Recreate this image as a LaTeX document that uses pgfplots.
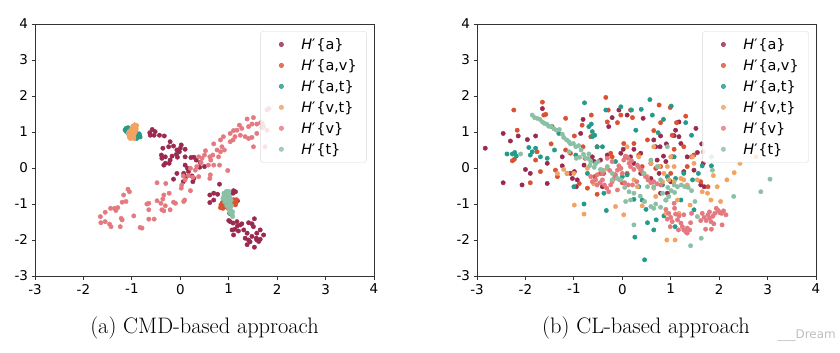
\documentclass[border=0pt]{standalone}
\usepackage{fontspec}
\usepackage{pgfplots}
\pgfplotsset{compat=1.18}
\newfontfamily\dejavu{DejaVu Sans}
\definecolor{ca}{HTML}{9B2A50}
\definecolor{cav}{HTML}{DB5133}
\definecolor{cat}{HTML}{229B8A}
\definecolor{cvt}{HTML}{F2A261}
\definecolor{cv}{HTML}{E47A80}
\definecolor{ct}{HTML}{8CC0A5}
\newcommand{\Hp}{\textit{H}′\kern0.8bp}
\pgfplotsset{
 myax/.style={
  scale only axis, width=339bp, height=252bp,
  xmin=-3,xmax=4,ymin=-3,ymax=4,
  xtick={-3,...,4}, ytick={-3,...,4},
  tick align=outside, tick pos=left,
  major tick length=3.5bp,
  axis line style={line width=0.8bp, black!80},
  every tick/.style={black!80, line width=0.8bp},
  ticklabel style={font=\dejavu\fontsize{13.5}{15}\selectfont},
  xticklabel style={yshift=-1bp},
  /pgf/number format/assume math mode=true,
  legend style={at={(rel axis cs:0.979,0.972)}, anchor=north east, draw=black!15, rounded corners=3bp, fill=white, fill opacity=0.8, text opacity=1, font=\dejavu\fontsize{14.5}{16}\selectfont, row sep=4.5bp, inner xsep=8bp, inner ysep=5bp},
  legend cell align=left,
  every axis plot/.append style={only marks, mark=*, mark size=2.2bp,
    legend image code/.code={\path[draw=none,fill=none] (0bp,-3bp) rectangle (31bp,3bp); \draw[##1] plot coordinates {(13bp,0bp)};}},
 }
}
\begin{document}
\begin{tikzpicture}[x=1bp,y=1bp]
\path[use as bounding box] (0,0) rectangle (840,352);
% ---------------- (a) CMD-based -----------------
\begin{axis}[myax, at={(35bp,76bp)}, anchor=south west]
\addplot[color=ca] coordinates {
(-0.58,1.07) (-0.52,1.01) (-0.62,0.91) (-0.54,0.91) (-0.43,0.91) (-0.33,0.89) (-0.63,0.98) (-0.21,0.73) (-0.14,0.61) (-0.24,0.59) (-0.36,0.55) (-0.39,0.36) (-0.31,0.31) (-0.38,0.27) (0.02,0.64) (0.00,0.55) (-0.07,0.50) (-0.02,0.45) (0.10,0.52) (-0.08,0.38) (-0.17,0.33) (-0.06,0.30) (0.10,0.31) (0.22,0.29) (0.28,0.30) (0.33,0.22) (0.41,0.15) (0.50,0.04) (0.40,0.02) (-0.31,0.13) (-0.34,0.08) (-0.21,0.22) (-0.23,0.13) (-0.14,-0.31) (-0.07,-0.15) (0.10,0.08) (0.15,-0.01) (0.07,-0.15) (0.17,-0.10) (0.24,-0.22) (0.12,-0.24) (0.06,-0.38) (0.26,-0.38) (0.28,-0.29)
(0.81,-0.45) (0.69,-0.70) (0.61,-0.75) (0.77,-0.73) (0.69,-0.89) (0.61,-0.96) (1.10,-0.63) (1.14,-0.66) (1.09,-0.70) (1.03,-0.89) (1.18,-0.91) (1.02,-1.26) (1.00,-1.46) (1.09,-1.53) (1.17,-1.49) (1.13,-1.70) (1.10,-1.86) (1.07,-1.72) (1.18,-1.61) (1.24,-1.58) (1.31,-1.72) (1.20,-1.75) (1.41,-1.52) (1.48,-1.55) (1.53,-1.41) (1.51,-1.63) (1.38,-1.81) (1.34,-1.95) (1.41,-2.00) (1.48,-1.90) (1.58,-1.81) (1.65,-1.72) (1.72,-1.86) (1.58,-2.00) (1.44,-2.05) (1.38,-2.13) (1.53,-2.20) (1.65,-1.98) (1.62,-2.04) (1.57,-1.95) (1.27,-1.55) (1.03,-1.49)
};
\addlegendentry{\Hp\{a\}}
\addplot[color=cav] coordinates {
(0.84,-1.02) (0.86,-1.08) (0.88,-1.12) (0.90,-1.00) (0.83,-1.10) (0.92,-1.06) (1.10,-0.88) (1.13,-0.92) (1.15,-0.96) (1.12,-1.00) (1.16,-0.88) (1.08,-0.95) (0.95,-0.95) (1.02,-1.05) (1.00,-0.90) (0.90,-0.92) (1.05,-0.98) (0.97,-1.10) (1.14,-1.02) (0.87,-0.96)
};
\addlegendentry{\Hp\{a,v\}}
\addplot[color=cat] coordinates {
(-1.12,1.10) (-1.10,1.05) (-1.08,0.98) (-1.05,0.92) (-0.98,0.85) (-0.90,0.88) (-0.85,0.95) (-0.83,0.86) (-0.88,0.92) (-0.92,1.02) (-1.12,1.02) (-1.08,1.12) (-1.00,1.08) (-0.95,1.12) (-0.90,0.82) (-0.86,0.90) (-1.14,1.06) (-1.03,0.88) (-0.84,0.91) (-1.06,1.08)
};
\addlegendentry{\Hp\{a,t\}}
\addplot[color=cvt] coordinates {
(-1.05,0.85) (-1.02,0.90) (-1.00,0.95) (-0.98,1.00) (-0.95,1.05) (-0.93,1.10) (-0.92,1.15) (-0.94,1.20) (-1.03,0.82) (-0.96,0.88) (-1.00,1.02) (-1.04,0.95) (-0.97,1.12) (-0.91,1.08) (-1.06,0.90) (-0.99,0.84) (-0.95,0.95) (-1.01,1.08) (-0.93,1.00) (-1.07,0.98) (-0.98,1.16) (-0.90,1.18) (-1.02,1.04) (-0.96,0.82) (-1.05,1.02)
};
\addlegendentry{\Hp\{v,t\}}
\addplot[color=cv] coordinates {
(1.51,1.40) (1.38,1.36) (1.58,1.22) (1.66,1.26) (1.72,1.15) (1.79,1.05) (1.69,1.12) (1.48,1.22) (1.41,1.15) (1.27,1.10) (1.22,1.19) (1.10,1.04) (1.17,1.05) (1.03,0.96) (1.13,0.87) (1.24,0.91) (1.34,0.87) (1.41,0.82) (1.48,0.85) (1.58,0.96) (1.51,0.59) (1.75,0.59) (1.79,1.61) (1.83,1.65) (1.69,1.24) (1.09,0.78) (1.03,0.73) (0.89,0.87) (0.83,0.78) (0.86,0.59) (0.91,0.50) (0.83,0.45) (0.76,0.50) (0.69,0.67) (0.67,0.36) (0.79,0.31) (0.63,0.22) (0.61,0.31) (0.58,0.08) (0.69,0.08) (0.81,0.08) (0.52,0.48) (0.50,0.36) (0.45,0.27) (0.38,0.31) (0.43,0.15) (0.34,0.04) (0.31,-0.06) (0.21,-0.01) (0.26,-0.26) (0.38,-0.24) (0.62,-0.19) (0.61,-0.29) (0.98,-0.07)
(-1.08,-0.59) (-1.05,-0.66) (-1.17,-0.75) (-1.12,-0.93) (-1.20,-0.95) (-1.29,-1.10) (-1.44,-1.12) (-1.36,-1.12) (-1.33,-1.18) (-1.55,-1.23) (-1.65,-1.35) (-1.55,-1.49) (-1.64,-1.52) (-1.46,-1.56) (-1.43,-1.63) (-1.22,-1.40) (-1.20,-1.44) (-1.24,-1.63) (-0.96,-1.33) (-0.83,-1.65) (-0.79,-1.67) (-0.69,-1.00) (-0.65,-0.98) (-0.65,-1.16) (-0.65,-1.42) (-0.54,-1.42) (-0.48,-0.91) (-0.48,-0.41) (-0.40,-0.98) (-0.36,-0.86) (-0.34,-1.19) (-0.31,-1.05) (-0.30,-0.43) (-0.23,-0.70) (-0.21,-1.16) (-0.14,-0.95) (-0.10,-0.98) (-0.34,-0.75) (0.07,-0.93) (0.09,-0.89) (0.02,-0.56) (0.03,-0.47) (0.21,-0.63) (0.06,-0.22) (0.17,-0.21) (0.10,-0.33) (-0.38,-1.16)
};
\addlegendentry{\Hp\{v\}}
\addplot[color=ct] coordinates {
(0.95,-0.65) (0.98,-0.68) (0.92,-0.72) (1.00,-0.72) (0.90,-0.78) (0.96,-0.80) (1.02,-0.80) (0.88,-0.85) (0.94,-0.88) (1.00,-0.88) (1.05,-0.90) (0.92,-0.95) (0.98,-0.97) (1.03,-1.00) (0.96,-1.05) (1.02,-1.08) (1.06,-1.05) (1.00,-1.15) (1.05,-1.18) (1.08,-1.22) (1.03,-1.25) (1.07,-1.30) (1.08,-1.35) (0.90,-0.70) (1.00,-0.65)
};
\addlegendentry{\Hp\{t\}}
\end{axis}
% ---------------- (b) CL-based -----------------
\begin{axis}[myax, at={(477bp,76bp)}, anchor=south west]
\addplot[color=ca] coordinates {
(-2.83,0.55) (-2.46,0.96) (-2.31,0.75) (-2.15,0.89) (-2.46,-0.41) (-2.07,-0.47) (-1.96,0.79) (-2.00,-0.04) (-1.90,-0.15) (-1.79,0.89) (-1.65,1.65) (-1.55,0.13) (-1.55,-0.43) (-1.45,1.15) (-1.24,0.06) (-1.24,0.31) (-1.07,-0.15) (-1.03,-0.29) (-0.99,-0.10) (-0.95,-0.52) (-0.93,-0.33) (-0.81,1.35) (-0.86,0.96) (-0.79,0.08) (-0.62,0.31) (-0.59,0.19) (-0.45,0.22) (-0.41,-0.52) (-0.39,-0.15) (-0.31,0.36) (-0.28,1.15) (-0.21,1.40) (-0.03,0.41) (-0.07,1.61) (-0.15,-0.19) (0.02,0.52) (0.07,0.31) (0.10,1.47) (0.17,0.31) (0.24,0.52) (0.24,0.13) (0.38,0.41) (0.43,1.38) (0.65,0.78) (0.69,0.59) (0.72,0.22) (0.76,-0.15) (0.78,0.59) (0.79,-0.70) (0.93,-0.70) (1.00,-0.38) (1.03,0.31) (1.07,0.90) (1.10,1.05) (1.17,0.87) (1.21,0.68) (1.27,-0.10) (1.34,0.31) (1.48,-0.06) (1.52,1.10) (1.55,0.43) (1.62,-0.47) (1.64,0.67) (1.69,-0.52) (1.67,0.13) (0.85,0.33) (0.90,0.18) (0.59,0.13) (0.38,-0.15) (0.59,-0.29) (0.91,0.67) (1.17,1.28) (0.79,0.89)
};
\addlegendentry{\Hp\{a\}}
\addplot[color=cav] coordinates {
(-2.24,1.61) (-2.17,1.05) (-2.27,0.20) (-2.23,0.24) (-1.90,-0.41) (-1.79,0.22) (-1.76,0.45) (-1.69,-0.10) (-1.65,1.83) (-1.62,1.47) (-1.58,1.49) (-1.47,0.67) (-1.38,-0.06) (-1.34,-0.24) (-1.17,1.38) (-1.17,0.50) (-1.14,-0.15) (-1.07,0.41) (-0.99,0.89) (-0.89,-0.43) (-0.83,1.19) (-0.81,0.59) (-0.77,0.27) (-0.72,-0.56) (-0.65,0.87) (-0.64,1.47) (-0.57,-0.24) (-0.52,-0.73) (-0.52,0.59) (-0.45,-0.15) (-0.34,1.96) (-0.31,1.28) (-0.29,1.61) (-0.24,0.41) (-0.21,0.31) (-0.10,1.26) (-0.03,1.47) (0.00,-0.41) (0.03,0.68) (0.10,-0.15) (0.17,1.61) (0.21,1.40) (0.24,0.68) (0.34,0.36) (0.41,0.04) (0.52,0.78) (0.65,1.04) (0.69,-0.01) (0.76,1.75) (0.79,1.26) (0.99,1.68) (1.03,0.91) (1.07,0.52) (1.12,1.26) (1.31,1.44) (1.27,0.59) (1.34,0.04) (1.43,0.31) (1.48,0.36) (1.62,-0.38) (1.77,-0.52) (1.00,-0.15) (0.79,0.04)
};
\addlegendentry{\Hp\{a,v\}}
\addplot[color=cat] coordinates {
(-2.38,0.39) (-2.27,0.39) (-2.22,0.43) (-2.19,0.33) (-1.93,0.57) (-1.90,0.36) (-1.86,0.45) (-1.79,0.55) (-1.69,0.31) (-1.55,0.27) (-1.40,0.50) (-1.31,0.96) (-1.00,-0.52) (-0.96,0.36) (-0.79,-1.00) (-0.78,1.81) (-0.72,-0.15) (-0.69,1.15) (-0.64,1.22) (-0.62,0.87) (-0.62,1.01) (-0.57,0.91) (-0.52,0.59) (-0.41,0.59) (-0.38,-0.70) (-0.34,1.61) (-0.33,-1.18) (-0.14,0.18) (-0.03,1.70) (0.00,-0.24) (0.10,-0.19) (0.19,1.61) (0.24,-0.87) (0.28,1.05) (0.34,-0.52) (0.41,-0.89) (0.39,1.63) (0.26,-1.92) (0.46,-2.55) (0.49,-1.15) (0.52,-1.52) (0.57,1.90) (0.62,1.47) (0.65,-1.72) (0.70,-1.44) (0.74,0.98) (0.85,1.35) (0.83,-0.47) (0.86,-1.33) (0.90,-0.89) (0.93,-0.24) (0.96,-0.33) (1.01,1.72) (1.07,0.31) (1.09,-1.63) (1.10,-0.29) (1.21,-0.89) (1.27,-0.15) (1.31,1.26) (1.43,0.91) (1.45,-0.33) (1.48,-1.16) (1.57,-0.15) (1.65,0.06) (1.84,0.06)
};
\addlegendentry{\Hp\{a,t\}}
\addplot[color=cvt] coordinates {
(-1.34,-0.15) (-1.21,-0.04) (-1.14,-0.15) (-1.00,-0.15) (-0.99,-1.03) (-0.79,-1.28) (-0.72,-0.01) (-0.59,-0.44) (-0.38,-0.07) (-0.31,-0.01) (-0.14,-1.07) (-0.03,-0.01) (0.03,-1.30) (0.10,0.59) (0.24,-0.33) (0.31,-0.52) (0.34,0.31) (0.41,-1.05) (0.59,0.13) (0.65,0.59) (0.76,0.04) (0.83,-0.38) (0.90,-1.26) (0.92,-2.00) (0.93,0.04) (0.96,-0.33) (1.00,0.31) (1.07,-0.38) (1.09,-2.00) (1.14,-0.89) (1.17,-1.26) (1.21,-0.29) (1.27,-0.33) (1.34,-0.47) (1.40,-1.03) (1.45,0.31) (1.48,0.13) (1.55,-0.33) (1.65,-0.66) (1.76,-0.70) (1.83,-0.89) (1.88,-0.21) (1.96,-0.52) (2.03,-0.93) (2.16,-0.33) (2.31,-0.13) (2.43,0.13) (2.76,0.31) (1.67,0.45) (0.65,-0.56) (0.69,-0.79) (0.52,-0.24) (0.38,-0.06) (0.86,-0.15) (1.07,0.04)
};
\addlegendentry{\Hp\{v,t\}}
\addplot[color=cv] coordinates {
(-0.65,-0.24) (-0.62,-0.38) (-0.55,-0.33) (-0.52,-0.47) (-0.46,-0.41) (-0.41,-0.33) (-0.37,-0.47) (-0.32,-0.56) (-0.28,-0.66) (-0.24,-0.47) (-0.21,-0.38) (-0.17,-0.29) (-0.14,-0.19) (-0.10,-0.06) (-0.07,0.06) (-0.03,-0.01) (0.03,0.22) (0.07,0.33) (0.12,0.27) (0.14,0.13) (0.17,0.04) (0.19,0.20) (0.24,-0.04) (0.31,0.08) (0.34,0.02) (0.39,-0.06) (0.43,-0.15) (0.48,-0.24) (0.53,-0.33) (0.59,-0.41) (0.65,-0.38) (0.72,-0.44) (0.79,-0.47) (-0.31,0.27) (-0.21,0.18) (-0.05,-0.33) (0.05,-0.41) (0.12,-0.47) (0.21,-0.47) (0.30,-0.38) (-0.41,-0.15) (-0.52,-0.19) (-0.26,-0.07) (0.00,-0.15) (-0.10,-0.61)
(0.90,-1.15) (0.96,-1.26) (1.00,-1.37) (1.03,-1.49) (1.08,-1.12) (1.10,-1.28) (1.14,-1.44) (1.21,-1.53) (1.24,-1.63) (1.27,-1.72) (1.31,-1.77) (1.34,-1.67) (1.39,-1.72) (0.99,-1.63) (0.93,-1.42) (1.17,-1.33) (1.27,-1.30) (1.16,-1.72) (1.41,-1.52) (1.34,-1.81) (1.43,-1.26) (1.07,-0.98)
(1.65,-1.26) (1.69,-1.37) (1.73,-1.46) (1.77,-1.30) (1.80,-1.39) (1.83,-1.49) (1.87,-1.34) (1.91,-1.26) (1.94,-1.12) (1.98,-1.18) (2.01,-1.24) (2.05,-1.26) (2.09,-1.19) (2.14,-1.30) (1.72,-1.70) (1.84,-1.70) (1.89,-1.55) (1.62,-1.46) (2.06,-1.58) (1.80,-1.22)
};
\addlegendentry{\Hp\{v\}}
\addplot[color=ct] coordinates {
(-1.86,1.47) (-1.81,1.40) (-1.76,1.38) (-1.70,1.35) (-1.65,1.28) (-1.61,1.24) (-1.56,1.22) (-1.52,1.16) (-1.47,1.16) (-1.41,1.09) (-1.36,1.05) (-1.30,1.07) (-1.24,0.94) (-1.21,0.85) (-1.15,0.78) (-1.10,0.73) (-1.07,0.67) (-1.01,0.68) (-0.96,0.59) (-0.90,0.62) (-0.85,0.50) (-0.80,0.38) (-0.76,0.28) (-0.70,0.26) (-0.65,0.18) (-0.67,0.07) (-0.58,0.02) (-0.55,0.12) (-0.88,0.30) (-0.95,0.27) (-0.69,0.39) (-0.50,0.18) (-0.45,-0.04) (-0.31,0.04) (-0.21,-0.15) (-0.10,-0.29) (-0.03,-0.33) (0.05,-0.54) (0.14,-0.66) (0.24,-0.70) (0.37,-0.78) (0.46,-0.93) (0.59,-1.07) (0.69,-1.00) (0.79,-1.09) (0.90,-0.89) (0.96,-0.79) (1.08,-0.68) (1.14,-0.52) (1.22,-0.47) (1.29,-0.52) (1.36,-0.54) (1.43,-0.63) (1.50,-0.93) (1.55,-1.35) (1.63,-1.95) (1.84,0.31) (1.86,-0.06) (2.30,-0.79) (2.86,-0.66) (3.05,-0.31) (1.41,-2.16) (0.24,-1.58) (0.45,-0.15) (0.59,0.22) (0.72,0.04) (0.79,-0.33) (0.17,-0.89) (0.07,-0.93) (0.52,-0.52) (0.65,-0.52) (0.83,-0.70) (0.94,-0.54) (1.01,-0.63) (1.07,-0.47) (-2.10,0.39) (-1.10,0.45) (-0.41,-0.06) (-0.21,-0.33) (0.65,-1.12) (0.93,0.59)
};
\addlegendentry{\Hp\{t\}}
\end{axis}
\node[font=\fontsize{22.5}{26}\selectfont] at (204.5,24) {(a) CMD-based approach};
\node[font=\fontsize{22.5}{26}\selectfont] at (646,24) {(b) CL-based approach};
\node[anchor=east, text=gray!50, font=\dejavu\fontsize{12}{13}\selectfont, inner sep=0pt] at (836,16) {\_\_\_Dream};
\end{tikzpicture}
\end{document}
